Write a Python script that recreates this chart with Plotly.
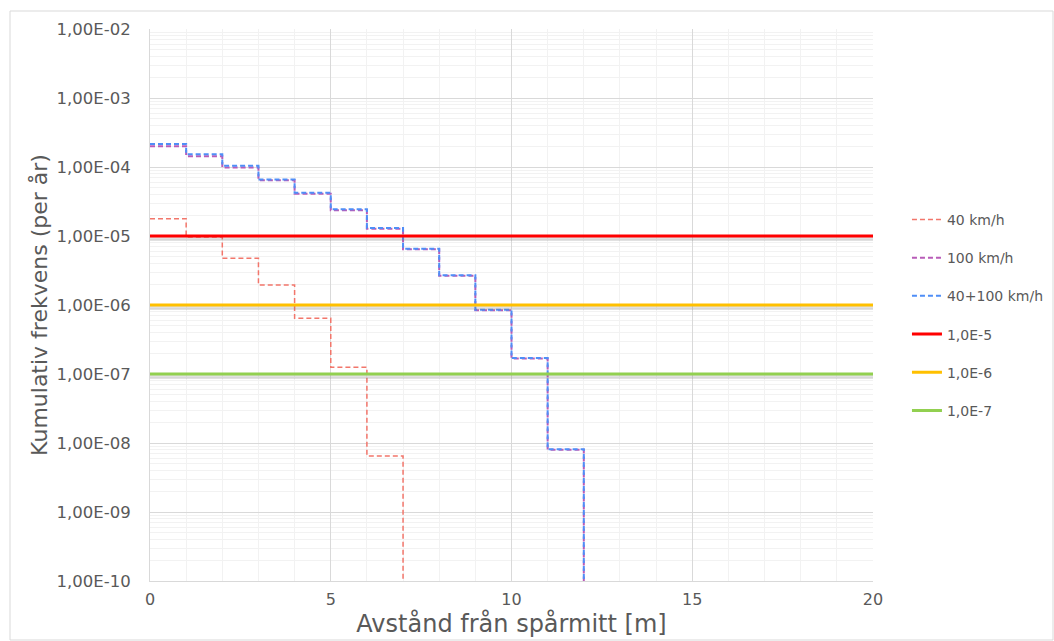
import plotly.graph_objects as go

# ---- data ----
distance_40 = [0, 1, 2, 3, 4, 5, 6, 7]
freq_40 = [1.78e-5, 9.7e-6, 4.75e-6, 1.95e-6, 6.4e-7, 1.25e-7, 6.5e-9, 1e-12]

distance_100 = [0, 1, 2, 3, 4, 5, 6, 7, 8, 9, 10, 11, 12]
freq_100 = [2.0e-4, 1.43e-4, 9.8e-5, 6.4e-5, 4.1e-5, 2.36e-5, 1.27e-5, 6.4e-6,
            2.65e-6, 8.4e-7, 1.68e-7, 8.0e-9, 1e-12]

distance_all = [0, 1, 2, 3, 4, 5, 6, 7, 8, 9, 10, 11, 12]
freq_all = [2.16e-4, 1.53e-4, 1.04e-4, 6.6e-5, 4.25e-5, 2.44e-5, 1.31e-5, 6.55e-6,
            2.69e-6, 8.5e-7, 1.7e-7, 8.1e-9, 1e-12]

ref_x = [0, 20]
ref_levels = [1e-5, 1e-6, 1e-7]
ref_names = ["1,0E-5", "1,0E-6", "1,0E-7"]
ref_colors = ["#FF0000", "#FFC000", "#92D050"]

y_tickvals = [10.0 ** k for k in range(-10, -1)]
y_ticktext = ["1,00E-%02d" % (-k) for k in range(-10, -1)]
y_minor = [m * 10.0 ** k for k in range(-10, -2) for m in range(2, 10)]
x_tickvals = [0, 5, 10, 15, 20]
x_minor = list(range(0, 21))

FONT = "DejaVu Sans"
TXT = "#595959"
fig = go.Figure()

fig.add_trace(go.Scatter(x=distance_40, y=freq_40, mode="lines", name="40 km/h",
                         line=dict(color="#F2766B", width=1.5, dash="5px,3px", shape="hv"),
                         legendgroup="a"))
fig.add_trace(go.Scatter(x=distance_100, y=freq_100, mode="lines", name="100 km/h",
                         line=dict(color="#B85CB8", width=2, dash="5px,3px", shape="hv"),
                         legendgroup="b"))
fig.add_trace(go.Scatter(x=distance_all, y=freq_all, mode="lines", name="40+100 km/h",
                         line=dict(color="#4F8EF7", width=2, dash="5px,3px", shape="hv"),
                         legendgroup="c"))

shadow_factor = 10 ** (-3.0 / 69.0)
for lvl, nm, col, g in zip(ref_levels, ref_names, ref_colors, ["d", "e", "f"]):
    fig.add_trace(go.Scatter(x=ref_x, y=[lvl * shadow_factor] * 2, mode="lines",
                             line=dict(color="rgba(120,120,120,0.22)", width=4),
                             showlegend=False, hoverinfo="skip"))
    fig.add_trace(go.Scatter(x=ref_x, y=[lvl] * 2, mode="lines", name=nm,
                             line=dict(color=col, width=3), legendgroup=g))

fig.update_layout(
    width=1054, height=641,
    margin=dict(l=150, r=181, t=29, b=60),
    paper_bgcolor="white", plot_bgcolor="white",
    font=dict(family=FONT, color=TXT),
    showlegend=True,
    legend=dict(xref="container", yref="container", x=0.8605, xanchor="left",
                y=0.682, yanchor="top",
                font=dict(size=14, family=FONT, color=TXT),
                tracegroupgap=17, bgcolor="rgba(0,0,0,0)"),
    shapes=[dict(type="rect", xref="paper", yref="paper",
                 x0=-140 / 723, x1=1 + 180 / 723, y0=-59 / 552, y1=1 + 18 / 552,
                 line=dict(color="#D9D9D9", width=1), fillcolor="rgba(0,0,0,0)", layer="below")],
)

fig.update_xaxes(range=[0, 20], tickvals=x_tickvals, ticks="", ticklabelstandoff=4,
                 tickfont=dict(size=16, family=FONT, color=TXT),
                 showgrid=True, gridcolor="#D9D9D9", gridwidth=1,
                 minor=dict(tickvals=x_minor, showgrid=True, gridcolor="#F2F2F2", gridwidth=1),
                 showline=True, linecolor="#D9D9D9", linewidth=1, zeroline=False,
                 automargin=False,
                 title=dict(text="Avstånd från spårmitt [m]", font=dict(size=24, family=FONT, color=TXT),
                            standoff=2))
fig.update_yaxes(type="log", range=[-10, -2], tickvals=y_tickvals, ticktext=y_ticktext, ticks="",
                 ticklabelstandoff=15,
                 tickfont=dict(size=16.5, family=FONT, color=TXT),
                 showgrid=True, gridcolor="#D9D9D9", gridwidth=1,
                 minor=dict(tickvals=y_minor, showgrid=True, gridcolor="#F2F2F2", gridwidth=1),
                 showline=True, linecolor="#D9D9D9", linewidth=1, zeroline=False,
                 automargin=False,
                 title=dict(text="Kumulativ frekvens (per år)", font=dict(size=22, family=FONT, color=TXT),
                            standoff=2))

fig.write_html("out.html", config={"displayModeBar": False},
               post_script="document.body.style.margin='0';document.body.style.overflow='hidden';")
